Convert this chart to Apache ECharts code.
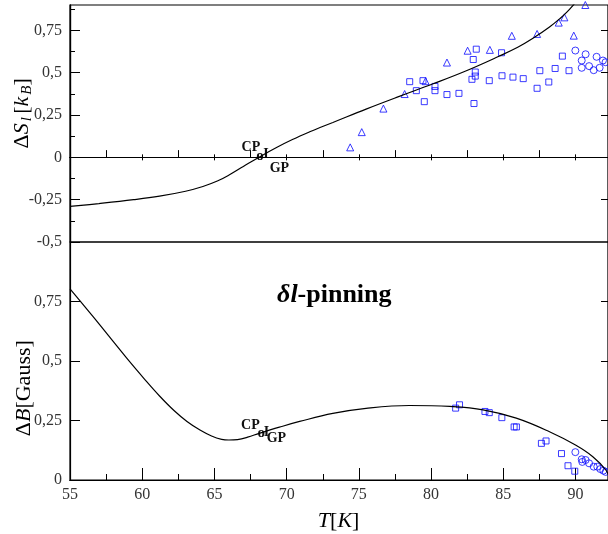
<!DOCTYPE html>
<html><head><meta charset="utf-8">
<script src="https://cdn.jsdelivr.net/npm/echarts@6/dist/echarts.min.js"></script>
<style>html,body{margin:0;padding:0;background:#fff}#c{width:608px;height:534px}</style>
</head><body><div id="c"></div>
<script>
// ---- tick values ----
const tempTicks = [55, 60, 65, 70, 75, 80, 85, 90];
const tempHalfTicks = [57.5, 62.5, 67.5, 72.5, 77.5, 82.5, 87.5];
const entropyMajorTicks = [-0.5, -0.25, 0, 0.25, 0.5, 0.75];
const entropyMinorTicks = [-0.375, -0.125, 0.125, 0.375, 0.625, 0.875];
const fieldTicks = [0, 0.25, 0.5, 0.75];

// ---- top panel: entropy difference ΔS_l [k_B] ----
const entropyCurve = [
  [55, -0.29], [57, -0.273], [59.4, -0.25], [61.2, -0.229], [63.0, -0.2],
  [64.2, -0.172], [65.2, -0.14], [66.1, -0.1], [67.0, -0.054], [68.15, 0.004],
  [69.3, 0.058], [70.4, 0.105], [71.6, 0.151], [72.4, 0.179], [73.2, 0.206],
  [75.5, 0.285], [77.8, 0.36], [80.1, 0.433], [82.4, 0.51], [84.7, 0.597],
  [86.0, 0.65], [87.0, 0.7], [88.2, 0.77], [88.95, 0.822], [89.4, 0.858],
  [89.85, 0.9], [90.2, 0.936]
];
const entropyTriangles = [
  [74.40, 0.059], [75.20, 0.149], [76.70, 0.288], [78.17, 0.374], [79.62, 0.45],
  [81.10, 0.56], [82.53, 0.63], [84.07, 0.635], [85.59, 0.718], [87.34, 0.729],
  [88.84, 0.796], [89.23, 0.827], [89.88, 0.719], [90.68, 0.9]
];
const entropySquares = [
  [78.52, 0.447], [78.98, 0.394], [79.44, 0.453], [79.53, 0.329], [80.27, 0.419],
  [80.27, 0.394], [81.10, 0.371], [81.93, 0.378], [82.97, 0.318], [82.83, 0.461],
  [83.06, 0.504], [83.06, 0.48], [82.92, 0.578], [83.13, 0.639], [84.03, 0.453],
  [84.88, 0.618], [84.91, 0.482], [85.67, 0.474], [86.38, 0.465], [87.34, 0.408],
  [87.53, 0.512], [88.15, 0.445], [88.59, 0.525], [89.09, 0.598], [89.55, 0.512]
];
const entropyCircles = [
  [89.99, 0.631], [90.70, 0.609], [90.43, 0.572], [90.43, 0.529], [90.94, 0.539],
  [91.26, 0.515], [91.46, 0.594], [91.67, 0.529], [91.90, 0.572], [92.08, 0.562]
];

// ---- bottom panel: field difference ΔB [Gauss] ----
const fieldCurve = [
  [55, 0.803], [56.6, 0.686], [58.9, 0.514], [60.2, 0.421], [61.2, 0.353],
  [62.2, 0.292], [63.1, 0.246], [64.0, 0.21], [64.8, 0.185], [65.5, 0.171],
  [66.0, 0.168], [66.6, 0.17], [67.3, 0.18], [68.1, 0.196], [69.5, 0.222],
  [70.9, 0.246], [73.2, 0.28], [75.5, 0.301], [78.5, 0.313], [81.3, 0.309],
  [83.6, 0.295], [85.9, 0.26], [88.2, 0.203], [90.0, 0.147], [91.2, 0.098],
  [92.1, 0.042], [92.4, 0.0]
];
const fieldSquares = [
  [81.70, 0.302], [81.97, 0.316], [83.73, 0.288], [84.03, 0.283], [84.90, 0.262],
  [85.75, 0.223], [85.91, 0.223], [87.64, 0.154], [87.96, 0.164], [89.03, 0.111],
  [89.48, 0.06], [89.95, 0.037]
];
const fieldCircles = [
  [89.99, 0.117], [90.43, 0.087], [90.70, 0.084], [90.47, 0.076], [90.94, 0.07],
  [91.26, 0.056], [91.51, 0.056], [91.72, 0.046], [91.93, 0.039], [92.09, 0.034]
];

const FONT = "'Liberation Serif','DejaVu Serif',serif";
const BLUE = '#0a0aff';
const commaFmt = v => (Math.abs(v) < 1e-9 ? '0' : String(+v.toFixed(2)).replace('.', ','));
const X_MIN = 55, X_MAX = 92.25;

function zeroAxis(values, inside, len) {
  return {
    gridIndex: 0, type: 'value', min: X_MIN, max: X_MAX,
    axisLine: { show: true, onZero: true, onZeroAxisIndex: 0, lineStyle: { color: '#000', width: 1.2 } },
    axisTick: { show: true, inside: inside, length: len, customValues: values, lineStyle: { color: '#000', width: 1 } },
    axisLabel: { show: false }, splitLine: { show: false }
  };
}
function tickOnlyY(grid, min, max, pos, values, len) {
  return {
    gridIndex: grid, type: 'value', min: min, max: max, position: pos,
    axisLine: { show: true, onZero: false, lineStyle: { color: '#000', width: 1.2 } },
    axisTick: { show: true, inside: true, length: len, customValues: values, lineStyle: { color: '#000', width: 1 } },
    axisLabel: { show: false }, splitLine: { show: false }
  };
}
const scatterStyle = { color: 'rgba(0,0,0,0)', borderColor: BLUE, borderWidth: 1 };

const chart = echarts.init(document.getElementById('c'), null, { renderer: 'canvas' });
chart.setOption({
  animation: false,
  backgroundColor: '#fff',
  grid: [
    { left: 70, top: 5, width: 539, height: 237, show: true, borderColor: '#000', borderWidth: 1.2, backgroundColor: 'transparent', containLabel: false },
    { left: 70, top: 242, width: 539, height: 238, show: true, borderColor: '#000', borderWidth: 1.2, backgroundColor: 'transparent', containLabel: false }
  ],
  xAxis: [
    zeroAxis(tempHalfTicks, true, 7),
    zeroAxis(tempHalfTicks, false, 7),
    zeroAxis(tempTicks.slice(1), true, 3),
    zeroAxis(tempTicks.slice(1), false, 3),
    {
      gridIndex: 1, type: 'value', min: X_MIN, max: X_MAX, position: 'bottom',
      axisLine: { show: true, onZero: false, lineStyle: { color: '#000', width: 1.2 } },
      axisTick: { show: true, inside: true, length: 12, customValues: tempTicks, lineStyle: { color: '#000', width: 1 } },
      axisLabel: { show: true, customValues: tempTicks, margin: 7, color: '#333', fontFamily: FONT, fontSize: 16, formatter: v => String(v) },
      splitLine: { show: false }
    },
    {
      gridIndex: 1, type: 'value', min: X_MIN, max: X_MAX, position: 'bottom',
      axisLine: { show: true, onZero: false, lineStyle: { color: '#000', width: 1.2 } },
      axisTick: { show: true, inside: true, length: 6, customValues: tempHalfTicks, lineStyle: { color: '#000', width: 1 } },
      axisLabel: { show: false }, splitLine: { show: false }
    }
  ],
  yAxis: [
    {
      gridIndex: 0, type: 'value', min: -0.5, max: 0.9, position: 'left',
      axisLine: { show: true, onZero: false, lineStyle: { color: '#000', width: 1.2 } },
      axisTick: { show: true, inside: true, length: 10, customValues: entropyMajorTicks, lineStyle: { color: '#000', width: 1 } },
      axisLabel: { show: true, customValues: entropyMajorTicks, margin: 8, color: '#333', fontFamily: FONT, fontSize: 16, formatter: commaFmt },
      splitLine: { show: false }
    },
    tickOnlyY(0, -0.5, 0.9, 'right', [-0.25, 0, 0.25, 0.5, 0.75], 7),
    tickOnlyY(0, -0.5, 0.9, 'left', entropyMinorTicks, 5),
    {
      gridIndex: 1, type: 'value', min: 0, max: 1, position: 'left',
      axisLine: { show: true, onZero: false, lineStyle: { color: '#000', width: 1.2 } },
      axisTick: { show: true, inside: true, length: 10, customValues: [0.25, 0.5, 0.75], lineStyle: { color: '#000', width: 1 } },
      axisLabel: { show: true, customValues: fieldTicks, margin: 8, color: '#333', fontFamily: FONT, fontSize: 16, formatter: commaFmt },
      splitLine: { show: false }
    },
    tickOnlyY(1, 0, 1, 'right', [0.25, 0.5, 0.75], 7)
  ],
  series: [
    { type: 'line', xAxisIndex: 0, yAxisIndex: 0, data: entropyCurve, showSymbol: false, smooth: 0.4, clip: true,
      lineStyle: { color: '#000', width: 1.2 }, z: 3 },
    { type: 'scatter', xAxisIndex: 0, yAxisIndex: 0, data: entropyTriangles, symbol: 'triangle', symbolSize: 7, clip: false, itemStyle: scatterStyle },
    { type: 'scatter', xAxisIndex: 0, yAxisIndex: 0, data: entropySquares, symbol: 'rect', symbolSize: 6, clip: false, itemStyle: scatterStyle },
    { type: 'scatter', xAxisIndex: 0, yAxisIndex: 0, data: entropyCircles, symbol: 'circle', symbolSize: 7, clip: false, itemStyle: scatterStyle },
    { type: 'line', xAxisIndex: 4, yAxisIndex: 3, data: fieldCurve, showSymbol: false, smooth: 0.4, clip: true,
      lineStyle: { color: '#000', width: 1.2 }, z: 3 },
    { type: 'scatter', xAxisIndex: 4, yAxisIndex: 3, data: fieldSquares, symbol: 'rect', symbolSize: 6, clip: false, itemStyle: scatterStyle },
    { type: 'scatter', xAxisIndex: 4, yAxisIndex: 3, data: fieldCircles, symbol: 'circle', symbolSize: 7, clip: false, itemStyle: scatterStyle }
  ]
});

// ---- annotations anchored on data coordinates ----
const topAnchor = chart.convertToPixel({ xAxisIndex: 0, yAxisIndex: 0 }, [68.15, 0]);
const botAnchor = chart.convertToPixel({ xAxisIndex: 4, yAxisIndex: 3 }, [68.25, 0.194]);
const axisTitleTop = chart.convertToPixel({ xAxisIndex: 0, yAxisIndex: 0 }, [55, 0.26]);
const axisTitleBot = chart.convertToPixel({ xAxisIndex: 4, yAxisIndex: 3 }, [55, 0.39]);
const xTitle = chart.convertToPixel({ xAxisIndex: 4, yAxisIndex: 3 }, [73.6, 0]);
const pinPos = chart.convertToPixel({ xAxisIndex: 4, yAxisIndex: 3 }, [73.3, 0.775]);

const annFont = 'bold 14px ' + FONT;
function cpGroup(a, o) {
  return [
    { type: 'text', x: a[0] + o.cp[0], y: a[1] + o.cp[1], style: { text: 'CP', font: annFont, fill: '#111', align: 'center', verticalAlign: 'middle' } },
    { type: 'text', x: a[0], y: a[1] - 1, style: { text: 'o', font: 'bold 15px ' + FONT, fill: '#111', align: 'center', verticalAlign: 'middle' } },
    { type: 'text', x: a[0] + o.i[0], y: a[1] + o.i[1], style: { text: 'I', font: annFont, fill: '#111', align: 'center', verticalAlign: 'middle' } },
    { type: 'text', x: a[0] + o.gp[0], y: a[1] + o.gp[1], style: { text: 'GP', font: annFont, fill: '#111', align: 'center', verticalAlign: 'middle' } }
  ];
}
const titleRich = {
  d: { fontFamily: FONT, fontSize: 22, color: '#555', lineHeight: 26 },
  i: { fontFamily: FONT, fontSize: 22, fontStyle: 'italic', color: '#555', lineHeight: 26 },
  r: { fontFamily: FONT, fontSize: 22, color: '#555', lineHeight: 26 },
  s: { fontFamily: FONT, fontSize: 15, fontStyle: 'italic', color: '#555', lineHeight: 14, verticalAlign: 'bottom', padding: [0, 0, 0, 2] }
};

chart.setOption({
  graphic: [
    ...cpGroup(topAnchor, { cp: [-9, -10], i: [6, -3], gp: [19.5, 11] }),
    ...cpGroup(botAnchor, { cp: [-11, -8], i: [5, -1], gp: [15, 5] }),
    { type: 'text', x: axisTitleTop[0] - 48, y: axisTitleTop[1], rotation: Math.PI / 2,
      style: { text: '{d|Δ}{i|S}{s|l} {r|[}{i|k}{s|B}{r|]}', rich: titleRich, align: 'center', verticalAlign: 'middle' } },
    { type: 'text', x: axisTitleBot[0] - 46, y: axisTitleBot[1] + 1, rotation: Math.PI / 2,
      style: { text: '{d|Δ}{i|B}{r|[Gauss]}', rich: titleRich, align: 'center', verticalAlign: 'middle' } },
    { type: 'text', x: xTitle[0], y: xTitle[1] + 41,
      style: { text: '{i|T}{r|[}{i|K}{r|]}', rich: titleRich, align: 'center', verticalAlign: 'middle' } },
    { type: 'text', x: pinPos[0], y: pinPos[1],
      style: { text: '{a|δl}{b|-pinning}', align: 'center', verticalAlign: 'middle',
        rich: {
          a: { fontFamily: FONT, fontSize: 26, fontWeight: 'bold', fontStyle: 'italic', color: '#222' },
          b: { fontFamily: FONT, fontSize: 26, fontWeight: 'bold', color: '#222' }
        } } }
  ]
});
</script>
</body></html>
